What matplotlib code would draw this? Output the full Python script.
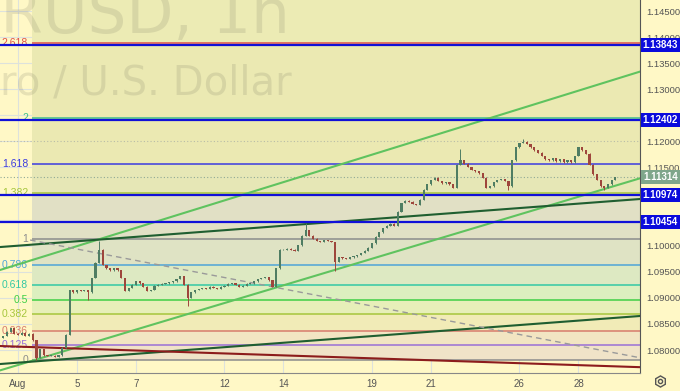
import matplotlib
matplotlib.use("Agg")
import matplotlib.pyplot as plt
from matplotlib.patches import Rectangle
from matplotlib.transforms import blended_transform_factory

# EURUSD, 3-hour closes; bar 0 = Jul 31 15:00, 8 bars per trading day
closes = [
    1.0823, 1.0827, 1.0835, 1.0842, 1.0831,
    1.0829, 1.0833, 1.0827, 1.0831, 1.0819, 1.0785, 1.0802, 1.0790,   # Aug 1
    1.0789, 1.0789, 1.0787, 1.0790, 1.0804, 1.0829, 1.0915, 1.0911,   # Aug 2
    1.0915, 1.0913, 1.0915, 1.0911, 1.0938, 1.0967, 1.0992, 1.0963,   # Aug 5
    1.0957, 1.0953, 1.0957, 1.0953, 1.0938, 1.0913, 1.0919, 1.0925,   # Aug 6
    1.0932, 1.0928, 1.0921, 1.0913, 1.0915, 1.0923, 1.0925, 1.0927,   # Aug 7
    1.0928, 1.0930, 1.0932, 1.0936, 1.0942, 1.0925, 1.0900, 1.0911,   # Aug 8
    1.0915, 1.0917, 1.0919, 1.0917, 1.0921, 1.0919, 1.0917, 1.0921,   # Aug 9
    1.0923, 1.0927, 1.0928, 1.0925, 1.0921, 1.0923, 1.0927, 1.0928,   # Aug 12
    1.0932, 1.0936, 1.0938, 1.0940, 1.0934, 1.0921, 1.0957, 1.0992,   # Aug 13
    1.0992, 1.0994, 1.0992, 1.0990, 1.1001, 1.1019, 1.1030, 1.1019,   # Aug 14
    1.1013, 1.1009, 1.1007, 1.1011, 1.1009, 1.1007, 1.0969, 1.0978,   # Aug 15
    1.0976, 1.0975, 1.0978, 1.0980, 1.0982, 1.0986, 1.0990, 1.0996,   # Aug 16
    1.1005, 1.1017, 1.1026, 1.1034, 1.1038, 1.1042, 1.1038, 1.1065,   # Aug 19
    1.1082, 1.1086, 1.1084, 1.1080, 1.1078, 1.1088, 1.1107, 1.1118,   # Aug 20
    1.1126, 1.1130, 1.1124, 1.1120, 1.1122, 1.1118, 1.1111, 1.1155,   # Aug 21
    1.1164, 1.1157, 1.1151, 1.1145, 1.1143, 1.1139, 1.1130, 1.1111,   # Aug 22
    1.1114, 1.1122, 1.1126, 1.1128, 1.1124, 1.1114, 1.1164, 1.1189,   # Aug 23
    1.1197, 1.1199, 1.1195, 1.1189, 1.1183, 1.1178, 1.1172, 1.1166,   # Aug 26
    1.1164, 1.1168, 1.1162, 1.1166, 1.1160, 1.1164, 1.1160, 1.1172,   # Aug 27
    1.1189, 1.1183, 1.1176, 1.1155, 1.1137, 1.1126, 1.1114, 1.1111,   # Aug 28
    1.1118, 1.1126, 1.11314,                                          # Aug 29
]
# long wicks worth showing: bar index and extreme price
wick_idx = [10, 24, 27, 51, 83, 91, 125, 138, 142, 164]
wick_px = [1.0781, 1.0897, 1.1009, 1.0886, 1.1043, 1.0953, 1.1185, 1.1107, 1.1203, 1.1107]

date_pos = [0, 2, 4, 7, 9, 12, 14, 17, 19]
date_lbl = ["Aug", "5", "7", "12", "14", "19", "21", "26", "28"]

price_ticks = [1.080, 1.085, 1.090, 1.095, 1.100, 1.105, 1.110, 1.115, 1.120, 1.125,
               1.130, 1.135, 1.140, 1.145]
hidden_ticks = [1.105, 1.110, 1.125]   # covered by price tags on the chart

# horizontal levels with price tags
hlevels = [1.13843, 1.12402, 1.10974, 1.10454]
last_price = 1.11314

# fibonacci extension
fib_zero, fib_one = 1.07808, 1.10128
fib_ratio = [0, 0.125, 0.236, 0.382, 0.5, 0.618, 0.786, 1, 1.382, 1.618, 2, 2.618]
fib_text = ["0", "0.125", "0.236", "0.382", "0.5", "0.618", "0.786", "1", "1.382", "1.618", "2", "2.618"]
fib_col = ["#8c8c8c", "#9a6fd6", "#d77a6c", "#a6c63c", "#3fcf45", "#33c8a4", "#4ea4d8",
           "#8c8c8c", "#a6c63c", "#3b3be0", "#3fbf8c", "#e0504a"]
band_col = ["#f0e3c8", "#f2e5c2", "#f1ebb7", "#e7efb9", "#dcefbf", "#dde9c2", "#dfe3c4",
            "#e1e0c5", "#e6e7b6", "#ebe9b2", "#ebe9b2", "#ecebb4"]
fib_start = 0.47

# trend lines: (day, price) anchor pairs
green_up = [(0, 1.09641), (20, 1.13148)]
green_lo = [(2, 1.08052), (20, 1.11108)]
dkgreen_up = [(0, 1.10000), (20, 1.10849)]
dkgreen_lo = [(0, 1.07757), (20, 1.08606)]
red_line = [(0, 1.08065), (20, 1.07691)]
dash_d = [0.41, 21.5]
dash_p = [1.10109, 1.07806]

xmin, xmax = -0.61, 21.085
ymin, ymax = 1.07559, 1.14711

plt.rcParams["font.family"] = ["Liberation Sans Narrow", "Liberation Sans", "DejaVu Sans"]

bg = "#fff8c6"
fig = plt.figure(figsize=(6.8, 3.91), dpi=100, facecolor=bg)
ax = fig.add_axes([0, 18 / 391, 640 / 680, 373 / 391])
ax.set_facecolor(bg)
ax.set_xlim(xmin, xmax)
ax.set_ylim(ymin, ymax)

# grid
for d in date_pos:
    ax.axvline(d, color="#dde2dc", lw=0.8, zorder=0.5)
for p in price_ticks:
    ax.axhline(p, color="#dde2dc", lw=0.8, zorder=0.5)

# fib bands and levels
levels = [fib_zero + r * (fib_one - fib_zero) for r in fib_ratio]
tops = levels[1:] + [ymax]
for lo, hi, c in zip(levels, tops, band_col):
    ax.fill_between([fib_start, xmax], lo, hi, color=c, lw=0, zorder=0.7)
for lvl, c, t in zip(levels, fib_col, fib_text):
    ax.hlines(lvl, fib_start, xmax, color=c, lw=1.1, zorder=1)
    ax.text(0.34, lvl, t, ha="right", va="center", fontsize=7.5, color=c, zorder=1,
            family=["Liberation Sans", "DejaVu Sans"])

# watermark
wm = (0.42, 0.42, 0.34, 0.16)
ax.text(290 / 640, 1 - 33 / 373, "EURUSD, 1h", transform=ax.transAxes, ha="right",
        va="baseline", fontsize=44, color=wm, zorder=0.9, family=["DejaVu Sans"])
ax.text(292 / 640, 1 - 95 / 373, "Euro / U.S. Dollar", transform=ax.transAxes, ha="right",
        va="baseline", fontsize=29, color=wm, zorder=0.9, family=["DejaVu Sans"])

ax.axhline(1.1200, color="#b8bca8", lw=0.8, ls=(0, (1, 2)), zorder=1)
ax.axhline(last_price, color="#8fa896", lw=0.8, ls=(0, (1, 2)), zorder=1)

# drawings
for pts, c in [(green_up, "#5fc35f"), (green_lo, "#5fc35f"),
               (dkgreen_up, "#1f5e30"), (dkgreen_lo, "#1f5e30"), (red_line, "#8c1c1c")]:
    ax.axline(pts[0], pts[1], color=c, lw=1.5, zorder=2)
ax.plot(dash_d, dash_p, color="#9a9a9a", lw=1, ls=(0, (4, 3)), zorder=2)

for p in hlevels:
    ax.axhline(p, color="#1010d8", lw=1.6, zorder=2.2)

# candles
up_c, dn_c = "#4f7d63", "#9e463c"
for i, c in enumerate(closes):
    o = closes[i - 1] if i else c
    x = -0.625 + i / 8
    col = up_c if c >= o else dn_c
    lo, hi = min(o, c), max(o, c)
    if i in wick_idx:
        w = wick_px[wick_idx.index(i)]
        lo_w, hi_w = min(lo, w), max(hi, w)
    else:
        lo_w, hi_w = lo, hi
    ax.vlines(x, lo_w - 0.00008, hi_w + 0.00008, color=col, lw=0.7, zorder=3)
    ax.bar(x, max(hi - lo, 0.00005), bottom=lo, width=0.075, color=col, lw=0, zorder=3)

# axes styling
for s in ["top", "left"]:
    ax.spines[s].set_visible(False)
ax.spines["right"].set_color("#555555")
ax.spines["bottom"].set_color("#888888")
ax.yaxis.tick_right()
ax.set_yticks(price_ticks)
ax.set_yticklabels(["" if p in hidden_ticks else f"{p:.5f}" for p in price_ticks])
ax.set_xticks(date_pos)
ax.set_xticklabels(date_lbl)
ax.tick_params(length=0, labelsize=7, colors="#555555")
ax.tick_params(axis="x", pad=4)
ax.tick_params(axis="y", pad=4.5, labelsize=6.8)

# price tags
tr = blended_transform_factory(ax.transAxes, ax.transData)
h = 0.0027
for p, fc in [(x, "#0b0bdc") for x in hlevels] + [(last_price, "#7fa68b")]:
    ax.add_patch(Rectangle((1.002, p - h / 2), 0.062, h, transform=tr, facecolor=fc,
                           lw=0, clip_on=False, zorder=5))
    ax.text(1.032, p, f"{p:.5f}", transform=tr, ha="center", va="center", fontsize=7,
            color="white", fontweight="bold", clip_on=False, zorder=6)

# settings icon
ov = fig.add_axes([0, 0, 1, 1], facecolor="none")
ov.set_xlim(0, 680)
ov.set_ylim(391, 0)
ov.axis("off")
ov.plot([660], [381], marker="h", ms=8, mfc="none", mec="#555555", mew=1)
ov.plot([660], [381], marker="o", ms=3, mfc="none", mec="#555555", mew=1)

fig.savefig("out.png", dpi=100, facecolor=bg)
